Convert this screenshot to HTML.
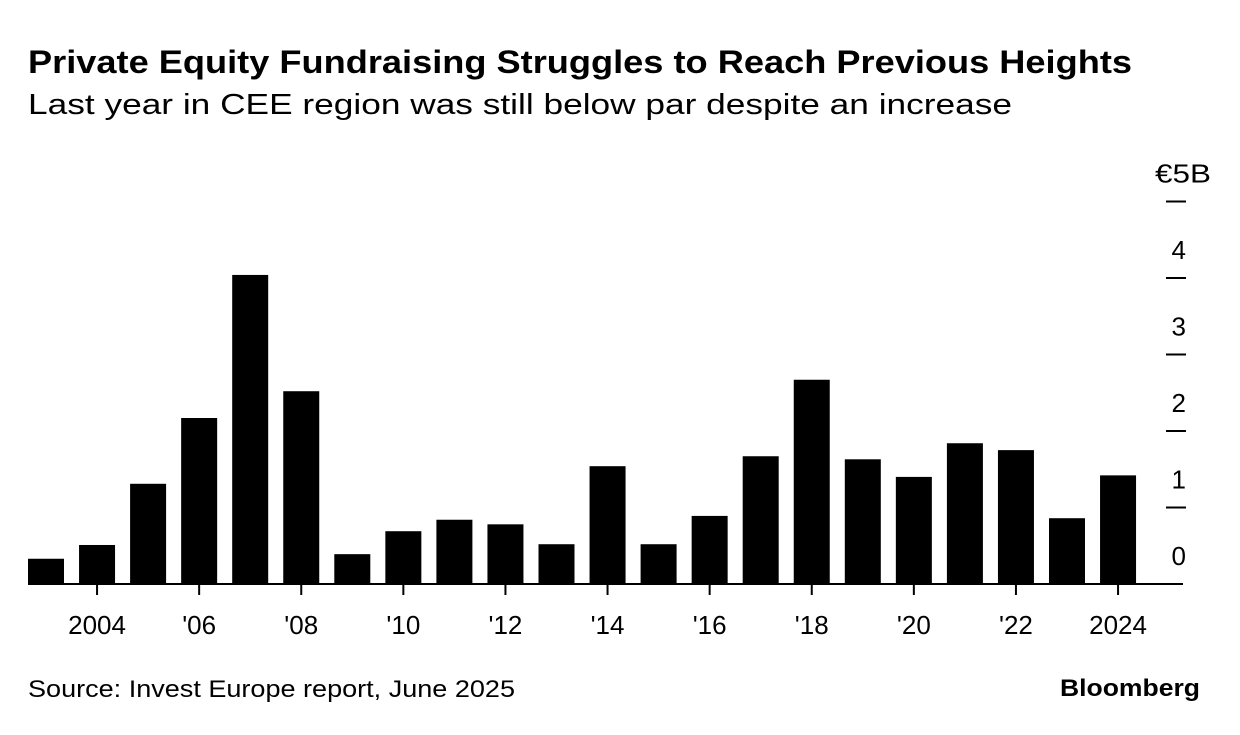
<!DOCTYPE html>
<html><head><meta charset="utf-8"><style>
body{margin:0;background:#fff;font-family:"Liberation Sans",sans-serif;}
</style></head><body>
<svg width="1240" height="730" xmlns="http://www.w3.org/2000/svg">
<text x="28" y="73" font-size="32" font-weight="bold" fill="#000" textLength="1104" lengthAdjust="spacingAndGlyphs">Private Equity Fundraising Struggles to Reach Previous Heights</text>
<text x="28" y="114" font-size="29" fill="#000" textLength="984" lengthAdjust="spacingAndGlyphs">Last year in CEE region was still below par despite an increase</text>
<g id="bars"></g>
<g id="axes"></g>
<text x="28" y="697" font-size="24" fill="#000" textLength="487" lengthAdjust="spacingAndGlyphs">Source: Invest Europe report, June 2025</text>
<text x="1200" y="696" font-size="24" font-weight="bold" text-anchor="end" fill="#000" textLength="140" lengthAdjust="spacingAndGlyphs">Bloomberg</text>
</svg>
<script>
const years=[2003,2004,2005,2006,2007,2008,2009,2010,2011,2012,2013,2014,2015,2016,2017,2018,2019,2020,2021,2022,2023,2024];
const values=[0.33,0.51,1.31,2.17,4.04,2.52,0.39,0.69,0.84,0.78,0.52,1.54,0.52,0.89,1.67,2.67,1.63,1.40,1.84,1.75,0.86,1.42];
const yTicks=[0,1,2,3,4,5];
const yTickLabels=["0","1","2","3","4","€5B"];
const xTickYears=[2004,2006,2008,2010,2012,2014,2016,2018,2020,2022,2024];
const xTickLabels=["2004","'06","'08","'10","'12","'14","'16","'18","'20","'22","2024"];
const NS="http://www.w3.org/2000/svg";
const x0=28,step=51.05,bw=36,base=584,unit=76.5;
const xs=y=>x0+(y-years[0])*step;
const ys=v=>base-v*unit;
const bars=document.getElementById('bars'),axes=document.getElementById('axes');
function mk(t,a,p){const e=document.createElementNS(NS,t);for(const k in a)e.setAttribute(k,a[k]);p.appendChild(e);return e;}
years.forEach((y,i)=>{const r=mk('rect',{x:xs(y),y:ys(values[i]),width:bw,height:base-ys(values[i]),fill:'#000'},bars);

});
const ax=mk('line',{x1:28,x2:1183,y1:base,y2:base,stroke:'#000','stroke-width':2},axes);


yTicks.forEach((v,i)=>{
 if(v>0){const l=mk('line',{x1:1166,x2:1186,y1:ys(v),y2:ys(v),stroke:'#000','stroke-width':2},axes);
 
 }
 const t=mk('text',{x:1186,y:ys(v)-19,'font-size':26,'text-anchor':'end',fill:'#000'},axes);t.textContent=yTickLabels[i];
 if(v===5){t.setAttribute('x',1211);t.setAttribute('textLength',56);t.setAttribute('lengthAdjust','spacingAndGlyphs');}
 
 
});
xTickYears.forEach((y,i)=>{const cx=xs(y)+bw/2;
 const l=mk('line',{x1:cx,x2:cx,y1:base,y2:base+11,stroke:'#000','stroke-width':2},axes);
 
 
 const t=mk('text',{x:cx,y:634,'font-size':26,'text-anchor':'middle',fill:'#000'},axes);t.textContent=xTickLabels[i];
 
 
});
</script>
</body></html>
